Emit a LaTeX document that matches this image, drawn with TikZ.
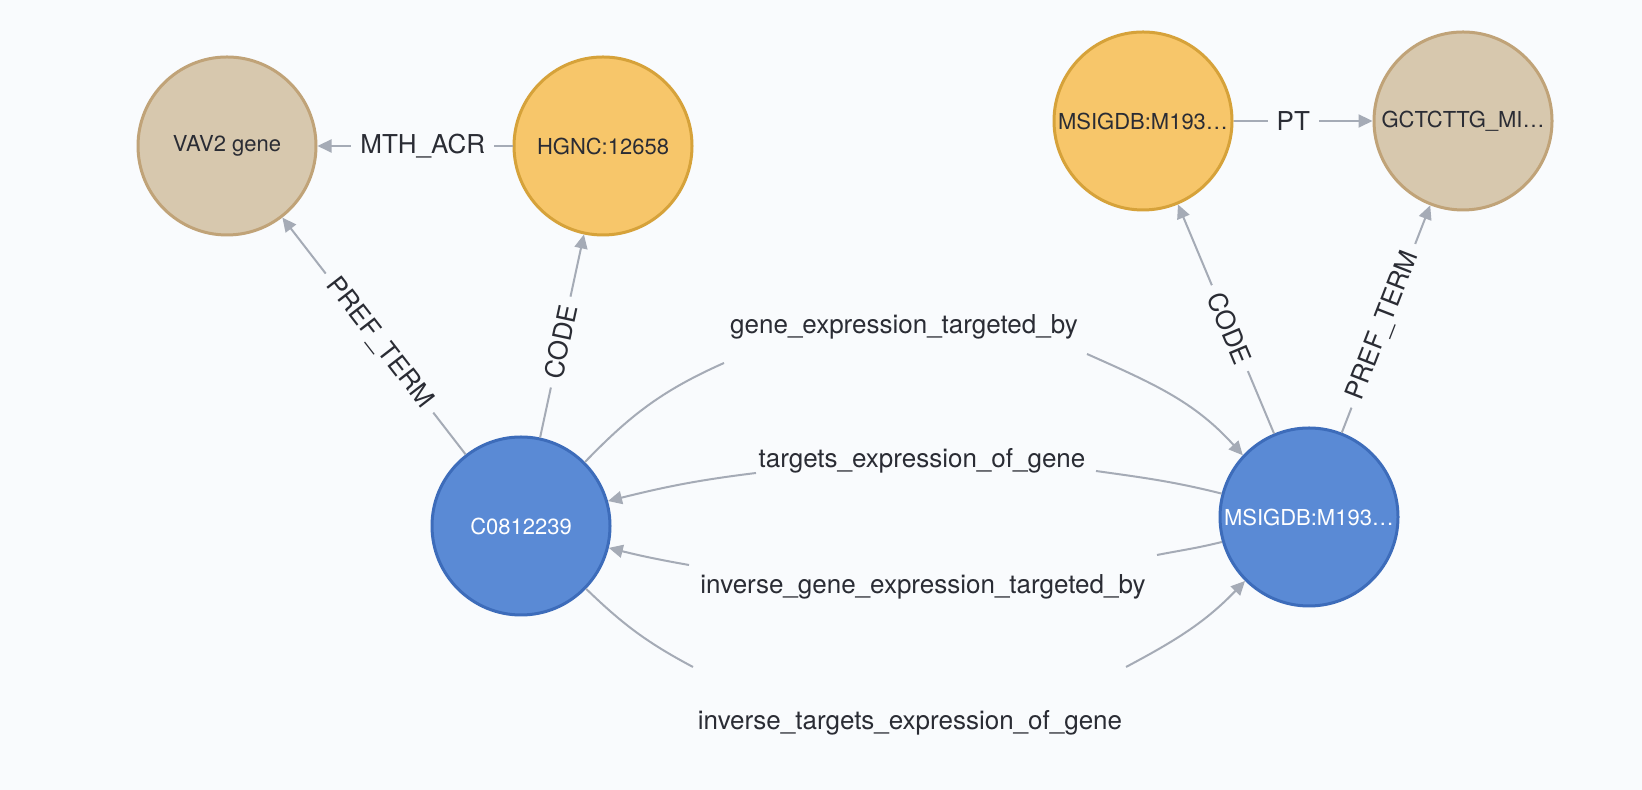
\documentclass[tikz,border=0pt]{standalone}
\usepackage{fontspec}
\setmainfont{TeX Gyre Heros}
\usepackage{tikz}
\usetikzlibrary{arrows.meta}
\definecolor{bgc}{HTML}{F9FBFD}
\definecolor{relc}{HTML}{A5ABB6}
\definecolor{txtc}{HTML}{2A2C34}
\definecolor{termc}{HTML}{D7C8AE}
\definecolor{termb}{HTML}{C0A378}
\definecolor{codec}{HTML}{F7C66A}
\definecolor{codeb}{HTML}{D6A23A}
\definecolor{cuic}{HTML}{5A8AD5}
\definecolor{cuib}{HTML}{3D6CBA}
\tikzset{
  nd/.style      = {circle, minimum size=89pt, inner sep=0pt, line width=1.5pt,
                    font=\fontsize{11}{13}\selectfont},
  termnd/.style  = {nd, draw=termb, fill=termc, text=txtc},
  codend/.style  = {nd, draw=codeb, fill=codec, text=txtc},
  cuind/.style   = {nd, draw=cuib, fill=cuic, text=white},
  rel/.style     = {-{Triangle[length=7pt,width=6.5pt]}, line width=1pt, draw=relc},
  relpart/.style = {line width=1pt, draw=relc},
  rellbl/.style  = {font=\fontsize{13}{15}\selectfont, text=txtc, fill=bgc,
                    inner xsep=4.5pt, inner ysep=1pt},
  arclbl/.style  = {font=\fontsize{13}{15}\selectfont, text=txtc},
}

\begin{document}
\begin{tikzpicture}[x=0.5pt, y=0.5pt]
\fill[bgc] (0,0) rectangle (1642,790);
\useasboundingbox (0,0) rectangle (1642,790);

% ---- nodes ----
\node[termnd] (vav)   at (227,644)  {VAV2 gene};
\node[codend] (hgnc)  at (603,644)  {HGNC:12658};
\node[codend] (msigT) at (1143,669) {MSIGDB:M193…};
\node[termnd] (gct)   at (1463,669) {GCTCTTG\_MI…};
\node[cuind]  (c08)   at (521,264)  {C0812239};
\node[cuind]  (msigB) at (1309,273) {MSIGDB:M193…};

% ---- straight relations ----
\draw[rel] (hgnc) -- node[rellbl, pos=0.46] (lmth) {MTH\_ACR} (vav);
\draw[rel] (msigT) -- node[rellbl, pos=0.43] (lpt) {PT} (gct);
\draw[rel] (c08) -- node[rellbl, sloped, pos=0.47] (lpref1) {PREF\_TERM} (vav);
\draw[rel] (c08) -- node[rellbl, sloped, pos=0.47] (lcode1) {CODE} (hgnc);
\draw[rel] (msigB) -- node[rellbl, sloped, pos=0.46] (lcode2) {CODE} (msigT);
\draw[rel] (msigB) -- node[rellbl, sloped, pos=0.47] (lpref2) {PREF\_TERM} (gct);

% ---- arcs between the two concepts (split round their captions) ----
\coordinate (g1a) at (724,427);
\coordinate (g1b) at (1087,436);
\draw[relpart] (c08.45) to[out=46, in=204] (g1a);
\draw[rel] (g1b) to[out=-24, in=132] (msigB.137);
\node[arclbl] (l1) at (904,463) {gene\_expression\_targeted\_by};

\coordinate (g2a) at (1096,319);
\coordinate (g2b) at (756,317);
\draw[relpart] (msigB.165) to[out=166, in=-8] (g2a);
\draw[rel] (g2b) to[out=187, in=14] (c08.16);
\node[arclbl] (l2) at (922,329) {targets\_expression\_of\_gene};

\coordinate (g3a) at (1157,235);
\coordinate (g3b) at (689,225);
\draw[relpart] (msigB.196) to[out=194, in=11] (g3a);
\draw[rel] (g3b) to[out=170, in=-14] (c08.346);
\node[arclbl] (l3) at (923,203) {inverse\_gene\_expression\_targeted\_by};

\coordinate (g4a) at (693,123);
\coordinate (g4b) at (1126,123);
\draw[relpart] (c08.316) to[out=-44, in=152] (g4a);
\draw[rel] (g4b) to[out=28, in=226] (msigB.225);
\node[arclbl] (l4) at (910,67) {inverse\_targets\_expression\_of\_gene};

\end{tikzpicture}
\end{document}
